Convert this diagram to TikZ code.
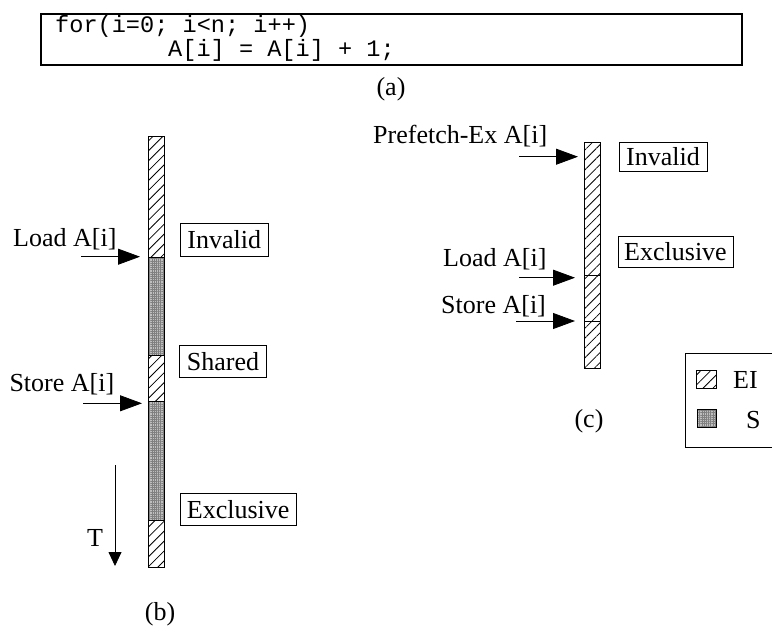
\documentclass[tikz,border=0pt]{standalone}
\usepackage{fontspec}
\setmainfont{Liberation Serif}
\newfontfamily\codefont{Liberation Mono}
\usetikzlibrary{arrows.meta,patterns.meta}
\begin{document}
\begin{tikzpicture}[x=1pt,y=-1pt,
  lbl/.style={font=\fontsize{26}{28}\selectfont, inner sep=0pt},
  codetxt/.style={font=\codefont\fontsize{23.6}{24}\selectfont, inner sep=0pt, anchor=base west},
  statebox/.style={draw, line width=0.8pt, font=\fontsize{26}{28}\selectfont, inner sep=0pt},
  hatchfill/.style={pattern={Lines[angle=45,distance=7pt,line width=0.8pt]}},
  dotfill/.style={pattern={Hatch[angle=0,distance=2.2pt,line width=0.35pt]}, pattern color=black!50},
  dotbase/.style={fill=black!25},
  barline/.style={draw, line width=0.8pt},
  evarrow/.style={line width=0.8pt, -{Triangle[length=22pt,width=16pt]}},
  tarrow/.style={line width=0.8pt, -{Triangle[length=14pt,width=13pt]}}]
\useasboundingbox (0,0) rectangle (772,626);
\fill[white] (0,0) rectangle (772,626);

% (a) code box
\node[draw, line width=2pt, minimum width=701pt, minimum height=51pt, inner sep=0pt] (code) at (391.35,39.5) {};
\node[codetxt] (l1) at (55,33) {for(i=0; i<n; i++)};
\node[codetxt] (l2) at (168,57) {A[i] = A[i] + 1;};
\node[lbl] (capa) at (391,89) {(a)};

% (b) bar
\fill[dotbase] (148.3,257.3) rectangle (164.3,355);
\fill[dotbase] (148.3,401) rectangle (164.3,520);
\pattern[dotfill] (148.3,257.3) rectangle (164.3,355);
\pattern[dotfill] (148.3,401) rectangle (164.3,520);
\pattern[hatchfill] (148.3,136) rectangle (164.3,257.3);
\pattern[hatchfill] (148.3,355) rectangle (164.3,401);
\pattern[hatchfill] (148.3,520) rectangle (164.3,567.3);
\draw[barline] (148.3,136) rectangle (164.3,567.3);
\draw[line width=0.8pt] (148.3,257.3) -- (164.3,257.3);
\draw[line width=0.8pt] (148.3,355) -- (164.3,355);
\draw[line width=0.8pt] (148.3,401) -- (164.3,401);
\draw[line width=0.8pt] (148.3,520) -- (164.3,520);

\coordinate (bload0) at (81,256.7);
\coordinate (bload1) at (140,256.7);
\coordinate (bstore0) at (83,403.3);
\coordinate (bstore1) at (142,403.3);
\draw[evarrow] (bload0) -- (bload1);
\draw[evarrow] (bstore0) -- (bstore1);
\node[lbl, anchor=base west] (bloadt) at (13,246) {Load A[i]};
\node[lbl, anchor=base west] (bstoret) at (9.3,391.7) {Store A[i]};

\node[statebox, minimum width=88pt, minimum height=32.7pt] (binv) at (224.3,239.7) {Invalid};
\node[statebox, minimum width=87.4pt, minimum height=31.6pt] (bsh) at (223,361.5) {Shared};
\node[statebox, minimum width=115.7pt, minimum height=32pt] (bex) at (238.2,509.3) {Exclusive};

\coordinate (t0) at (115,465);
\coordinate (t1) at (115,566);
\draw[tarrow] (t0) -- (t1);
\node[lbl, anchor=base west] (tt) at (87,546) {T};
\node[lbl] (capb) at (160,614) {(b)};

% (c) bar
\pattern[hatchfill] (584,142.7) rectangle (600,368.3);
\draw[barline] (584,142.7) rectangle (600,368.3);
\draw[line width=0.8pt] (584,275) -- (600,275);
\draw[line width=0.8pt] (584,321.7) -- (600,321.7);

\coordinate (cpf0) at (519,156.7);
\coordinate (cpf1) at (578,156.7);
\coordinate (cld0) at (519,277.7);
\coordinate (cld1) at (575,277.7);
\coordinate (cst0) at (516,321);
\coordinate (cst1) at (575,321);
\draw[evarrow] (cpf0) -- (cpf1);
\draw[evarrow] (cld0) -- (cld1);
\draw[evarrow] (cst0) -- (cst1);
\node[lbl, anchor=base west] (cpft) at (373,143) {Prefetch-Ex A[i]};
\node[lbl, anchor=base west] (cldt) at (443,266.7) {Load A[i]};
\node[lbl, anchor=base west] (cstt) at (441,313) {Store A[i]};

\node[statebox, minimum width=88pt, minimum height=28.3pt] (cinv) at (663,156.8) {Invalid};
\node[statebox, minimum width=115pt, minimum height=31.7pt] (cex) at (675.5,251.8) {Exclusive};
\node[lbl] (capc) at (589,421) {(c)};

% legend
\draw[line width=0.8pt] (772,353) -- (685,353) -- (685,447) -- (772,447);
\pattern[hatchfill] (696.7,370) rectangle (716,388.3);
\draw[line width=0.8pt] (696.7,370) rectangle (716,388.3);
\fill[dotbase] (697,409.3) rectangle (716,427.3);
\pattern[dotfill] (697,409.3) rectangle (716,427.3);
\draw[line width=0.8pt] (697,409.3) rectangle (716,427.3);
\node[lbl, anchor=base west] (lei) at (733,388) {EI};
\node[lbl, anchor=base west] (ls) at (746,428) {S};
\end{tikzpicture}
\end{document}
